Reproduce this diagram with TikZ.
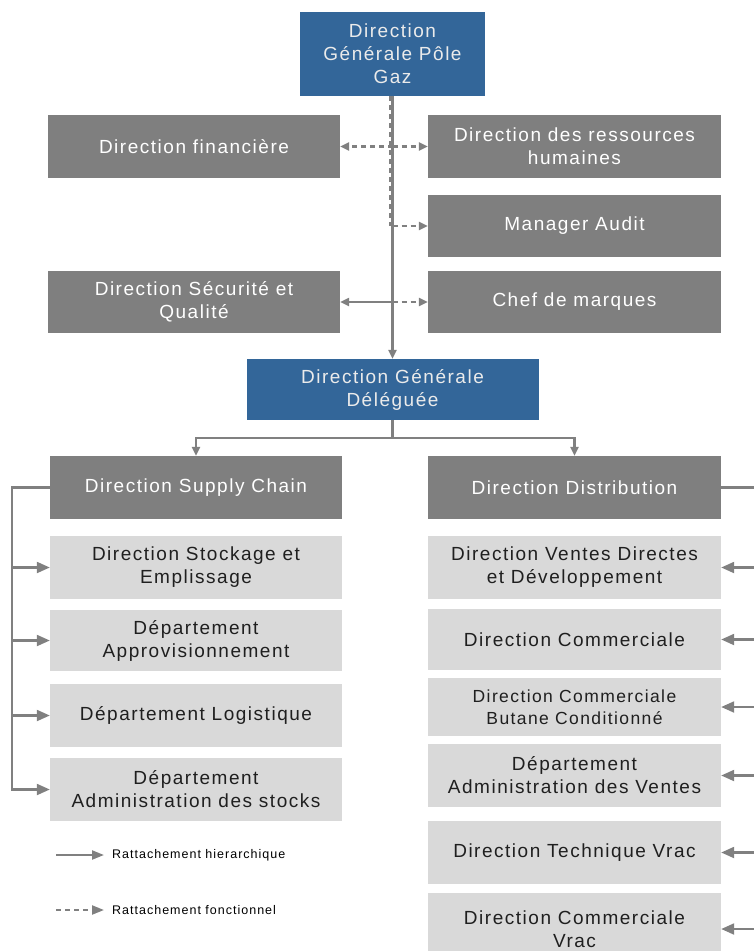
\documentclass[tikz,border=0pt]{standalone}
\usepackage{fontspec}
\setmainfont{Liberation Sans}[LetterSpace=8]
\usetikzlibrary{arrows.meta}

\definecolor{dgblue}{RGB}{51,102,153}
\definecolor{darkbox}{RGB}{127,127,127}
\definecolor{lightbox}{RGB}{217,217,217}
\definecolor{linegray}{RGB}{128,128,128}

\tikzset{
  box/.style={inner sep=0pt, align=center, font=\fontsize{19}{23}\selectfont},
  dg/.style={box, fill=dgblue, text=white!92!black},
  dark/.style={box, fill=darkbox, text=white},
  light/.style={box, fill=lightbox, text=black!88},
  link/.style={linegray, line width=2.2pt},
  hier/.style={link, -{Triangle[length=9pt,width=8pt]}},
  bighier/.style={link, -{Triangle[length=13pt,width=11pt]}},
  fonc/.style={hier, dash pattern=on 5pt off 4pt},
  legend/.style={anchor=west, inner xsep=8pt, font=\fontsize{12.5}{15}\selectfont}
}

\begin{document}
\begin{tikzpicture}[x=1pt, y=-1pt]
	\useasboundingbox (0,0) rectangle (753,951);

	% top of the chart
	\node[dg, minimum width=185, minimum height=84] (pole) at (392.5,54) {Direction\\Générale Pôle\\Gaz};
	\node[dark, minimum width=292, minimum height=63] (fin) at (194,146.5) {Direction financière};
	\node[dark, minimum width=293, minimum height=63] (drh) at (574.5,146.5) {Direction des ressources\\humaines};
	\node[dark, minimum width=293, minimum height=62] (audit) at (574.5,226) {Manager Audit};
	\node[dark, minimum width=293, minimum height=62] (chef) at (574.5,302) {Chef de marques};
	\node[dark, minimum width=292, minimum height=62] (secu) at (194,302) {Direction Sécurité et\\Qualité};
	\node[dg, minimum width=292, minimum height=61] (dgd) at (392.5,389.5) {Direction Générale\\Déléguée};

	\draw[hier] (pole) -- (dgd);
	\draw[link, dash pattern=on 5pt off 4pt] ([xshift=-2.5pt]pole.south) -- ([xshift=-2.5pt]pole.south |- audit.west);
	\draw[fonc] (pole.south |- fin.east) -- (fin.east);
	\draw[fonc] (pole.south |- drh.west) -- (drh.west);
	\draw[fonc] (pole.south |- audit.west) -- (audit.west);
	\draw[fonc] (pole.south |- chef.west) -- (chef.west);
	\draw[hier] (pole.south |- secu.east) -- (secu.east);

	% the two directions
	\node[dark, minimum width=292, minimum height=63] (supply) at (196,487.5) {Direction Supply Chain};
	\node[dark, minimum width=293, minimum height=63] (distrib) at (574.5,487.5) {Direction Distribution};

	\coordinate (split) at (392.5,438);
	\draw[link] (dgd.south) -- (split);
	\draw[hier] (split) -| (supply.north);
	\draw[hier] (split) -| (distrib.north);

	% supply chain side
	\node[light, minimum width=292, minimum height=63] (stock) at (196,567.5) {Direction Stockage et\\Emplissage};
	\node[light, minimum width=292, minimum height=61] (appro) at (196,640.5) {Département\\Approvisionnement};
	\node[light, minimum width=292, minimum height=63] (logis) at (196,715.5) {Département Logistique};
	\node[light, minimum width=292, minimum height=63] (admstock) at (196,789.5) {Département\\Administration des stocks};

	\coordinate (lbar) at (12,0);
	\draw[bighier] (supply.west) -| (lbar |- admstock.west) -- (admstock.west);
	\foreach \n in {stock, appro, logis}
		\draw[bighier] (lbar |- \n.west) -- (\n.west);

	% distribution side
	\node[light, minimum width=293, minimum height=63] (ventes) at (574.5,567.5) {Direction Ventes Directes\\et Développement};
	\node[light, minimum width=293, minimum height=61] (comm) at (574.5,639.5) {Direction Commerciale};
	\node[light, minimum width=293, minimum height=58, font=\fontsize{17.5}{22}\selectfont] (butane) at (574.5,707) {Direction Commerciale\\Butane Conditionné};
	\node[light, minimum width=293, minimum height=63] (admvente) at (574.5,775.5) {Département\\Administration des Ventes};
	\node[light, minimum width=293, minimum height=63] (techvrac) at (574.5,852.5) {Direction Technique Vrac};
	\node[light, minimum width=293, minimum height=72] (commvrac) at (574.5,929) {Direction Commerciale\\Vrac};

	\coordinate (rbar) at (757,0);
	\draw[link] (distrib.east) -| (rbar |- commvrac.east);
	\foreach \n in {ventes, comm, butane, admvente, techvrac, commvrac}
		\draw[bighier] (rbar |- \n.east) -- (\n.east);

	% legend
	\node[legend] (leghier) at (104,855) {Rattachement hierarchique};
	\node[legend] (legfonc) at (104,910) {Rattachement fonctionnel};
	\coordinate (leghs) at (56,855);
	\coordinate (legfs) at (56,910);
	\draw[bighier, -{Triangle[length=12pt,width=9pt]}] (leghs) -- (leghier.west);
	\draw[bighier, -{Triangle[length=12pt,width=9pt]}, dash pattern=on 5pt off 4pt] (legfs) -- (legfonc.west);
\end{tikzpicture}
\end{document}
